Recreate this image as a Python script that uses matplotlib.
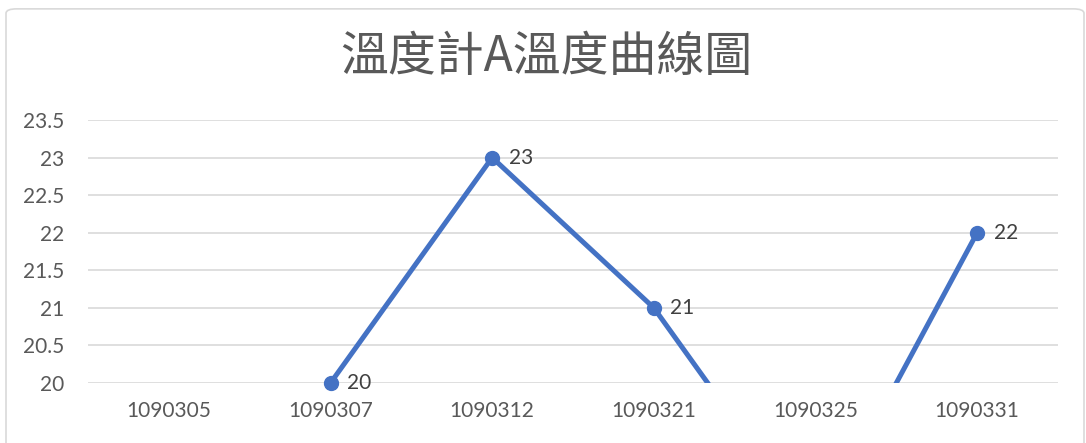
import matplotlib.pyplot as plt
from matplotlib.patches import FancyBboxPatch

plt.rcParams['font.family'] = ['Lato', 'Noto Sans CJK TC', 'DejaVu Sans']

# data
dates = ['1090305', '1090307', '1090312', '1090321', '1090325', '1090331']
temps = [19, 20, 23, 21, 18, 22]
y_ticks = [20, 20.5, 21, 21.5, 22, 22.5, 23, 23.5]
title = '溫度計A溫度曲線圖'

fig = plt.figure(figsize=(10.86, 4.43), dpi=100)
ax = fig.add_axes([88 / 1086, 1 - 383 / 443, 970 / 1086, 263 / 443])

x = list(range(len(dates)))
ax.plot(x, temps, color='#4472C4', linewidth=3.6, solid_capstyle='butt', zorder=3)

# markers and labels only for points inside the axis range
y_min, y_max = 20, 23.5
vis = [(i, t) for i, t in zip(x, temps) if y_min <= t <= y_max]
ax.plot([v[0] for v in vis], [v[1] for v in vis], 'o', color='#4472C4',
        markersize=10, clip_on=False, zorder=4)
for i, t in vis:
    ax.annotate(f'{t:g}', (i, t), xytext=(12, 0), textcoords='offset points',
                ha='left', va='center', fontsize=15, color='#404040')

ax.set_xlim(-0.5, len(dates) - 0.5)
ax.set_ylim(y_min, y_max)
ax.set_xticks(x)
ax.set_xticklabels(dates)
ax.set_yticks(y_ticks)
ax.set_yticklabels([f'{v:g}' for v in y_ticks])
ax.tick_params(length=0, labelsize=15, colors='#595959')
ax.tick_params(axis='x', pad=13)
ax.tick_params(axis='y', pad=17)
ax.grid(axis='y', color='#D9D9D9', linewidth=1.2)
ax.set_axisbelow(True)
for s in ax.spines.values():
    s.set_visible(False)

fig.text(546 / 1086, 1 - 57 / 443, title, ha='center', va='center',
         fontsize=34.5, color='#595959', fontweight='light',
         family=['Noto Sans CJK TC', 'DejaVu Sans'])

# chart area border
border = FancyBboxPatch((6 / 1086, -0.05), 1078 / 1086, 1.03,
                        boxstyle='round,pad=0,rounding_size=0.01',
                        transform=fig.transFigure, fill=False,
                        edgecolor='#D9D9D9', linewidth=1.2)
fig.patches.append(border)

fig.savefig('out.png', dpi=100)
